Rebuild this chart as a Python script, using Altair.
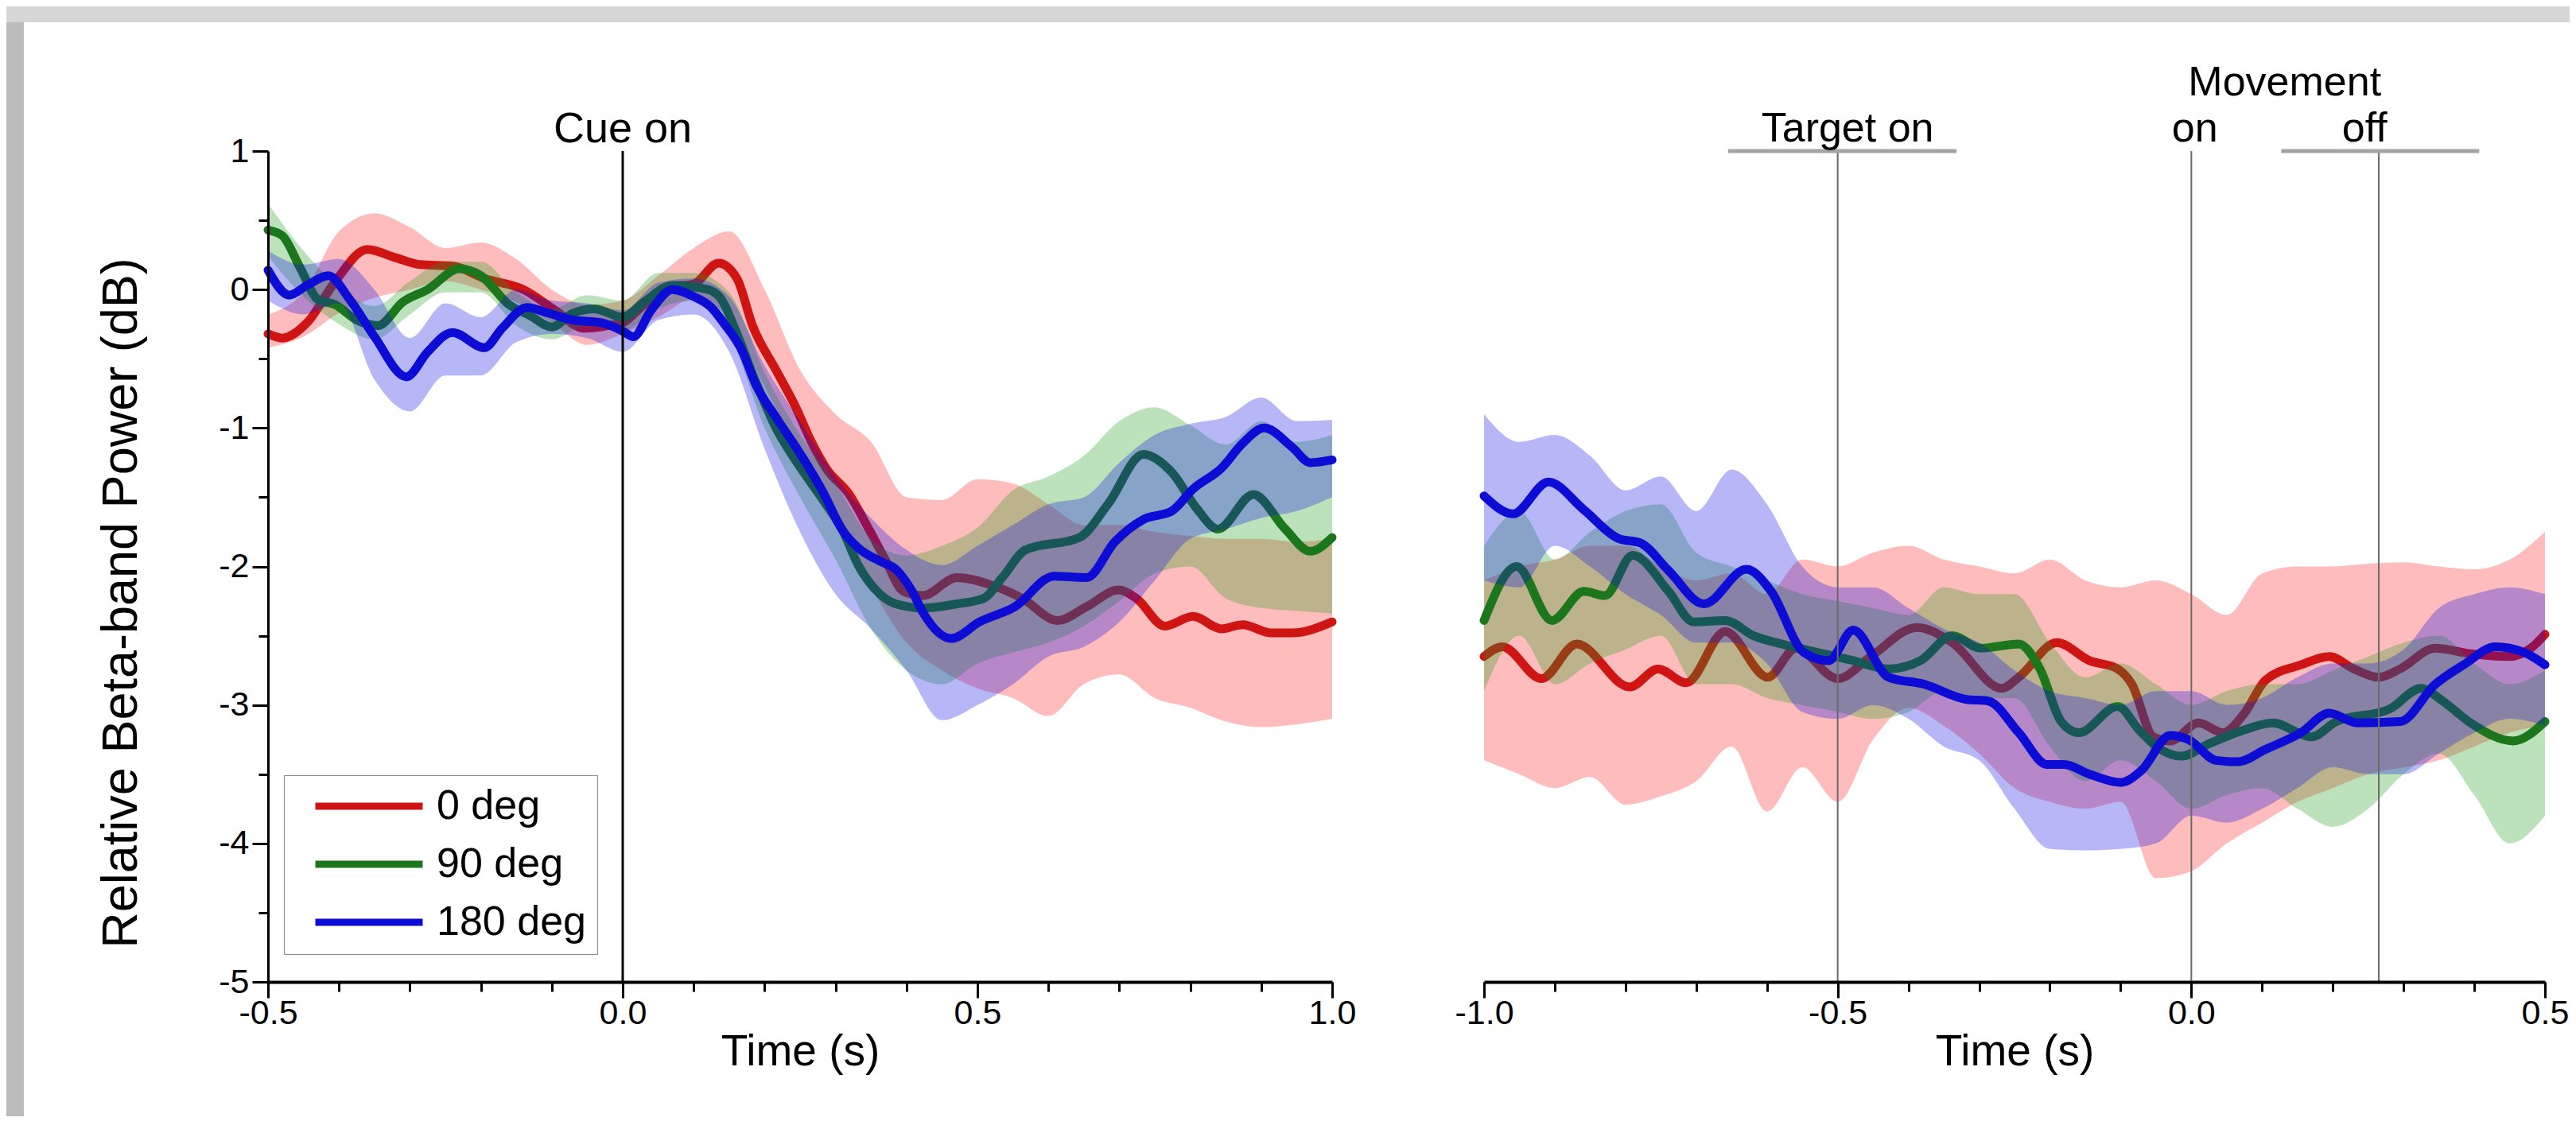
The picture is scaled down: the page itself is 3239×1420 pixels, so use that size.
import altair as alt
import pandas as pd

FONT = "Liberation Sans"
SERIES = ["0 deg", "90 deg", "180 deg"]
LINE_COLORS = ["#cf1414", "#1c761c", "#0c0cd4"]
BAND_COLORS = ["#ff2020", "#22a022", "#1010e6"]
BAND_OPACITY = 0.3

# ---------------- left panel (aligned to cue onset) ----------------
L_GRID = [-0.50, -0.45, -0.40, -0.35, -0.30, -0.25, -0.20, -0.15, -0.10, -0.05, 0.00,
          0.05, 0.10, 0.15, 0.20, 0.25, 0.30, 0.35, 0.40, 0.45, 0.50, 0.55, 0.60, 0.65,
          0.70, 0.75, 0.80, 0.85, 0.90, 0.95, 1.00]

L_RED_HI = [-0.18, -0.02, 0.42, 0.55, 0.45, 0.30, 0.34, 0.22, 0.00, -0.11, -0.08, 0.10, 0.30, 0.42,
            0.00, -0.58, -0.90, -1.10, -1.50, -1.52, -1.37, -1.40, -1.55, -1.70, -1.70, -1.75,
            -1.78, -1.80, -1.80, -1.82, -1.80]
L_RED_LO = [-0.42, -0.34, -0.17, -0.06, 0.00, 0.06, 0.00, -0.09, -0.24, -0.40, -0.32, -0.20, -0.07,
            -0.20, -0.70, -1.20, -1.70, -2.15, -2.55, -2.75, -2.88, -2.95, -3.08, -2.85, -2.78,
            -2.95, -3.02, -3.12, -3.16, -3.14, -3.10]
L_GRN_HI = [0.62, 0.28, 0.02, -0.12, 0.06, 0.20, 0.20, -0.02, -0.14, -0.04, -0.08, 0.12, 0.12, -0.02,
            -0.60, -1.05, -1.40, -1.80, -1.92, -1.85, -1.72, -1.45, -1.35, -1.20, -0.95, -0.85,
            -0.98, -1.12, -0.95, -1.10, -1.05]
L_GRN_LO = [0.24, -0.05, -0.25, -0.36, -0.18, -0.02, -0.02, -0.26, -0.36, -0.26, -0.30, -0.14, -0.08,
            -0.32, -1.00, -1.50, -1.95, -2.45, -2.75, -2.85, -2.70, -2.62, -2.55, -2.43, -2.25,
            -2.05, -2.00, -2.23, -2.30, -2.32, -2.34]
L_BLU_HI = [0.28, 0.18, 0.22, 0.00, -0.35, -0.10, -0.20, 0.00, -0.08, -0.10, -0.15, 0.05, 0.08, -0.05,
            -0.55, -0.95, -1.35, -1.65, -1.88, -1.99, -1.85, -1.70, -1.55, -1.50, -1.25, -1.05,
            -0.97, -0.92, -0.78, -0.95, -0.94]
L_BLU_LO = [-0.08, -0.18, -0.10, -0.65, -0.88, -0.62, -0.62, -0.38, -0.32, -0.35, -0.45, -0.22, -0.18,
            -0.45, -1.15, -1.75, -2.20, -2.45, -2.75, -3.11, -3.00, -2.85, -2.65, -2.58, -2.40,
            -2.10, -1.80, -1.73, -1.65, -1.60, -1.50]

L_RED_T = [-0.5, -0.48, -0.445, -0.405, -0.36, -0.32, -0.285, -0.24, -0.195, -0.14, -0.095, -0.055,
           -0.02, 0.0, 0.03, 0.07, 0.10, 0.135, 0.161, 0.183, 0.217, 0.243, 0.266, 0.288, 0.318,
           0.348, 0.37, 0.396, 0.423, 0.471, 0.523, 0.563, 0.613, 0.654, 0.699, 0.724, 0.764,
           0.804, 0.844, 0.874, 0.914, 0.944, 1.0]
L_RED_V = [-0.32, -0.35, -0.24, 0.06, 0.29, 0.23, 0.18, 0.17, 0.08, 0.0, -0.15, -0.28, -0.26, -0.24,
           -0.11, 0.02, 0.04, 0.19, 0.08, -0.26, -0.59, -0.84, -1.10, -1.30, -1.47, -1.74, -1.95,
           -2.18, -2.21, -2.08, -2.14, -2.23, -2.39, -2.29, -2.17, -2.23, -2.43, -2.36, -2.45,
           -2.42, -2.48, -2.48, -2.40]
L_GRN_T = [-0.5, -0.48, -0.455, -0.43, -0.405, -0.375, -0.345, -0.31, -0.275, -0.23, -0.2, -0.16,
           -0.13, -0.10, -0.07, -0.04, 0.0, 0.03, 0.07, 0.12, 0.139, 0.161, 0.187, 0.217, 0.247,
           0.281, 0.31, 0.333, 0.355, 0.385, 0.423, 0.471, 0.509, 0.535, 0.568, 0.644, 0.684,
           0.734, 0.774, 0.809, 0.839, 0.889, 0.934, 0.969, 1.0]
L_GRN_V = [0.43, 0.39, 0.16, -0.07, -0.11, -0.22, -0.26, -0.09, 0.0, 0.15, 0.10, -0.11, -0.19,
           -0.27, -0.17, -0.14, -0.20, -0.09, 0.03, 0.0, -0.07, -0.32, -0.66, -1.01, -1.26, -1.51,
           -1.74, -2.0, -2.16, -2.27, -2.30, -2.27, -2.23, -2.08, -1.88, -1.79, -1.55, -1.19,
           -1.32, -1.58, -1.73, -1.48, -1.73, -1.89, -1.79]
L_BLU_T = [-0.5, -0.47, -0.445, -0.415, -0.385, -0.35, -0.305, -0.275, -0.24, -0.195, -0.17,
           -0.135, -0.105, -0.07, -0.03, 0.0, 0.015, 0.04, 0.07, 0.10, 0.125, 0.142, 0.169, 0.187,
           0.217, 0.247, 0.281, 0.31, 0.333, 0.366, 0.385, 0.408, 0.423, 0.463, 0.503, 0.553,
           0.608, 0.654, 0.694, 0.734, 0.774, 0.804, 0.844, 0.874, 0.904, 0.944, 0.969, 1.0]
L_BLU_V = [0.14, -0.04, 0.03, 0.10, -0.07, -0.34, -0.63, -0.45, -0.31, -0.42, -0.28, -0.13, -0.17,
           -0.22, -0.24, -0.30, -0.34, -0.15, 0.0, -0.05, -0.13, -0.24, -0.45, -0.68, -0.93, -1.16,
           -1.45, -1.74, -1.87, -1.97, -2.02, -2.18, -2.33, -2.52, -2.40, -2.29, -2.07, -2.08,
           -1.82, -1.66, -1.60, -1.44, -1.29, -1.11, -1.0, -1.14, -1.25, -1.23]

# ---------------- right panel (aligned to movement onset) ----------------
R_GRID = [-1.00, -0.95, -0.90, -0.85, -0.80, -0.75, -0.70, -0.65, -0.60, -0.55, -0.50, -0.45,
          -0.40, -0.35, -0.30, -0.25, -0.20, -0.15, -0.10, -0.05, 0.00, 0.05, 0.10, 0.15, 0.20,
          0.25, 0.30, 0.35, 0.40, 0.45, 0.50]

R_RED_HI = [-2.10, -2.00, -1.95, -1.85, -1.85, -2.00, -2.10, -2.05, -2.20, -1.95, -2.00, -1.90,
            -1.85, -1.95, -2.00, -2.05, -1.95, -2.10, -2.15, -2.10, -2.20, -2.35, -2.05, -2.00,
            -2.00, -1.98, -1.97, -2.00, -2.02, -1.95, -1.75]
R_RED_LO = [-3.40, -3.50, -3.60, -3.52, -3.72, -3.66, -3.55, -3.30, -3.77, -3.45, -3.70, -3.25,
            -3.02, -3.15, -3.35, -3.60, -3.70, -3.75, -3.70, -4.25, -4.20, -4.00, -3.85, -3.70,
            -3.60, -3.50, -3.45, -3.40, -3.30, -3.20, -3.15]
R_GRN_HI = [-1.85, -1.60, -1.95, -1.75, -1.60, -1.55, -1.90, -2.00, -2.10, -2.20, -2.25, -2.30,
            -2.35, -2.15, -2.20, -2.20, -2.55, -2.80, -2.70, -2.85, -3.00, -2.90, -2.85, -2.85,
            -2.75, -2.65, -2.55, -2.50, -2.70, -2.85, -2.75]
R_GRN_LO = [-2.90, -2.50, -2.85, -2.70, -2.60, -2.50, -2.85, -2.85, -2.95, -3.00, -3.05, -3.10,
            -3.05, -2.90, -2.95, -2.95, -3.30, -3.55, -3.40, -3.55, -3.75, -3.65, -3.60, -3.75,
            -3.88, -3.75, -3.50, -3.35, -3.65, -4.00, -3.80]
R_BLU_HI = [-0.90, -1.10, -1.05, -1.20, -1.45, -1.35, -1.60, -1.30, -1.55, -2.00, -2.15, -2.15,
            -2.30, -2.45, -2.55, -2.75, -2.90, -2.95, -3.00, -2.90, -2.90, -3.00, -2.95, -2.80,
            -2.70, -2.70, -2.60, -2.30, -2.20, -2.15, -2.20]
R_BLU_LO = [-2.10, -2.15, -1.85, -2.00, -2.20, -2.35, -2.55, -2.55, -2.70, -3.05, -3.10, -3.00,
            -3.10, -3.30, -3.40, -3.75, -4.04, -4.05, -4.04, -4.00, -3.80, -3.85, -3.75, -3.60,
            -3.45, -3.50, -3.50, -3.35, -3.20, -3.10, -3.15]

R_RED_T = [-1.0, -0.974, -0.919, -0.869, -0.794, -0.754, -0.714, -0.659, -0.599, -0.559, -0.5,
           -0.453, -0.388, -0.338, -0.268, -0.244, -0.19, -0.144, -0.104, -0.084, -0.054, -0.03,
           0.01, 0.045, 0.075, 0.105, 0.155, 0.195, 0.23, 0.265, 0.295, 0.345, 0.395, 0.45, 0.48,
           0.5]
R_RED_V = [-2.65, -2.58, -2.81, -2.56, -2.87, -2.74, -2.84, -2.47, -2.80, -2.59, -2.81, -2.65,
           -2.44, -2.55, -2.88, -2.80, -2.55, -2.68, -2.74, -2.85, -3.23, -3.26, -3.13, -3.20,
           -3.06, -2.82, -2.71, -2.65, -2.74, -2.80, -2.74, -2.59, -2.63, -2.65, -2.59, -2.49]
R_GRN_T = [-1.0, -0.954, -0.904, -0.859, -0.829, -0.79, -0.739, -0.704, -0.659, -0.619, -0.579,
           -0.529, -0.478, -0.428, -0.383, -0.338, -0.298, -0.244, -0.214, -0.184, -0.159, -0.104,
           -0.074, -0.044, -0.014, 0.025, 0.075, 0.115, 0.17, 0.205, 0.28, 0.325, 0.355, 0.395,
           0.455, 0.5]
R_GRN_V = [-2.39, -2.0, -2.39, -2.18, -2.21, -1.92, -2.18, -2.40, -2.39, -2.50, -2.56, -2.62,
           -2.68, -2.74, -2.68, -2.50, -2.59, -2.56, -2.74, -3.12, -3.20, -3.01, -3.18, -3.32,
           -3.37, -3.28, -3.18, -3.13, -3.23, -3.12, -3.03, -2.88, -2.97, -3.13, -3.26, -3.12]
R_BLU_T = [-1.0, -0.959, -0.909, -0.859, -0.809, -0.779, -0.739, -0.689, -0.629, -0.594, -0.548,
           -0.513, -0.478, -0.428, -0.378, -0.318, -0.288, -0.244, -0.204, -0.18, -0.144, -0.10,
           -0.07, -0.03, -0.004, 0.035, 0.065, 0.105, 0.155, 0.195, 0.235, 0.295, 0.345, 0.385,
           0.43, 0.47, 0.5]
R_BLU_V = [-1.49, -1.62, -1.39, -1.59, -1.80, -1.83, -2.03, -2.27, -2.02, -2.18, -2.62, -2.68,
           -2.46, -2.80, -2.85, -2.96, -2.97, -3.20, -3.43, -3.43, -3.50, -3.56, -3.47, -3.22,
           -3.25, -3.40, -3.41, -3.32, -3.20, -3.06, -3.13, -3.12, -2.85, -2.71, -2.58, -2.62,
           -2.71]

# ---------------- axes ticks / annotations ----------------
L_MAJOR_X = [-0.5, 0.0, 0.5, 1.0]
L_MINOR_X = [-0.5, -0.4, -0.3, -0.2, -0.1, 0.0, 0.1, 0.2, 0.3, 0.4, 0.5, 0.6, 0.7, 0.8, 0.9, 1.0]
R_MAJOR_X = [-1.0, -0.5, 0.0, 0.5]
R_MINOR_X = [-1.0, -0.9, -0.8, -0.7, -0.6, -0.5, -0.4, -0.3, -0.2, -0.1, 0.0, 0.1, 0.2, 0.3, 0.4, 0.5]
MAJOR_Y = [-5, -4, -3, -2, -1, 0, 1]
MINOR_Y = [-4.5, -3.5, -2.5, -1.5, -0.5, 0.5]

CUE_T = [0.0]
CUE_LABEL = ["Cue on"]
EVENT_T = [-0.5, 0.0, 0.265]
EVENT_LABEL_T = [-0.486, 0.005, 0.245]
EVENT_LABEL = ["Target on", "on", "off"]
BRACKET_T1 = [-0.655, 0.127]
BRACKET_T2 = [-0.332, 0.407]
MOVEMENT_T = [0.132]
MOVEMENT_LABEL = ["Movement"]

W_L, W_R, H = 1338, 1334, 1045
XFIX = "replace(format(datum.value, '.1f'), '\u2212', '-')"
YFIX = "replace(format(datum.value, 'd'), '\u2212', '-')"

ys = alt.Scale(domain=[-5, 1], nice=False, zero=False)


def major_x(values):
    return alt.Axis(orient="bottom", values=values, labelExpr=XFIX, tickSize=20, tickWidth=3,
                    tickColor="black", domainColor="black", domainWidth=4, labelFontSize=43,
                    labelFont=FONT, labelColor="black", labelPadding=-2, labelOverlap=False,
                    labelFlush=False, title="Time (s)", titleFont=FONT, titleFontSize=55,
                    titleFontWeight="normal", titleColor="black", titlePadding=0, grid=False,
                    zindex=2)


def minor_x(values):
    return alt.Axis(orient="bottom", values=values, tickSize=12, tickWidth=3, tickColor="black",
                    domain=False, labels=False, title=None, grid=False, zindex=2)


MAJOR_Y_AXIS = alt.Axis(orient="left", values=MAJOR_Y, labelExpr=YFIX, tickSize=20, tickWidth=3,
                        tickColor="black", domainColor="black", domainWidth=3, labelFontSize=43,
                        labelFont=FONT, labelColor="black", labelPadding=4, labelOverlap=False,
                        title="Relative Beta-band Power (dB)", titleFont=FONT, titleFontSize=63,
                        titleFontWeight="normal", titleColor="black", titlePadding=90, titleY=568,
                        grid=False, zindex=2)
MINOR_Y_AXIS = alt.Axis(orient="left", values=MINOR_Y, tickSize=12, tickWidth=3, tickColor="black",
                        domain=False, labels=False, title=None, grid=False, zindex=2)

LEGEND = alt.Legend(orient="none", legendX=20, legendY=785, title=None, symbolType="stroke",
                    symbolSize=18225, symbolStrokeWidth=9, clipHeight=50, rowPadding=21,
                    padding=14, symbolOffset=21, labelOffset=13, labelFontSize=52, labelFont=FONT,
                    labelColor="black", labelLimit=400, strokeColor="#8c8c8c", fillColor="white",
                    zindex=3)


def series_layers(grid, bands, means, xs, ax_major, ax_minor, ay_major, ay_minor, legend):
    layers = []
    for i, s in enumerate(SERIES):
        lo, hi = bands[i]
        bdf = pd.DataFrame({"t": grid, "lo": lo, "hi": hi})
        if i == 0:
            xa, ya = ax_major, ay_major
        elif i == 1:
            xa, ya = ax_minor, ay_minor
        else:
            xa, ya = None, None
        area = alt.Chart(bdf).mark_area(color=BAND_COLORS[i], opacity=BAND_OPACITY,
                                        interpolate="monotone").encode(
            x=alt.X("t:Q", scale=xs, axis=xa),
            y=alt.Y("hi:Q", scale=ys, axis=ya),
            y2="lo:Q",
        )
        mt, mv = means[i]
        mdf = pd.DataFrame({"t": mt, "v": mv, "series": s})
        line = alt.Chart(mdf).mark_line(strokeWidth=11, strokeCap="round", strokeJoin="round",
                                        interpolate="monotone").encode(
            x=alt.X("t:Q", scale=xs, axis=None),
            y=alt.Y("v:Q", scale=ys, axis=None),
            color=alt.Color("series:N", scale=alt.Scale(domain=SERIES, range=LINE_COLORS),
                            legend=legend),
        )
        layers += [area, line]
    return layers


# ---------------- left panel ----------------
xs_l = alt.Scale(domain=[-0.5, 1.0], nice=False, zero=False)
frame_df = pd.DataFrame({"k": [0]})
white_frame = alt.Chart(frame_df).mark_rect(color="white").encode(
    x=alt.value(-307), x2=alt.value(2894), y=alt.value(-162), y2=alt.value(1214))
side_band = alt.Chart(frame_df).mark_rect(color="#bcbcbc").encode(
    x=alt.value(-329), x2=alt.value(-307), y=alt.value(-162), y2=alt.value(1214))

left_series = series_layers(
    L_GRID,
    [(L_RED_LO, L_RED_HI), (L_GRN_LO, L_GRN_HI), (L_BLU_LO, L_BLU_HI)],
    [(L_RED_T, L_RED_V), (L_GRN_T, L_GRN_V), (L_BLU_T, L_BLU_V)],
    xs_l, major_x(L_MAJOR_X), minor_x(L_MINOR_X), MAJOR_Y_AXIS, MINOR_Y_AXIS, LEGEND)

cue_df = pd.DataFrame({"t": CUE_T, "top": [1.0], "bot": [-5.0], "label": CUE_LABEL})
cue_rule = alt.Chart(cue_df).mark_rule(color="black", strokeWidth=3).encode(
    x=alt.X("t:Q", scale=xs_l, axis=None), y=alt.Y("top:Q", scale=ys, axis=None), y2="bot:Q")
cue_text = alt.Chart(cue_df).mark_text(font=FONT, fontSize=54, color="black", align="center",
                                       baseline="alphabetic", dy=-11).encode(
    x=alt.X("t:Q", scale=xs_l, axis=None), y=alt.Y("top:Q", scale=ys, axis=None), text="label:N")

left = alt.layer(white_frame, side_band, *left_series, cue_rule, cue_text).properties(
    width=W_L, height=H).resolve_axis(x="independent", y="independent")

# ---------------- right panel ----------------
xs_r = alt.Scale(domain=[-1.0, 0.5], nice=False, zero=False)
right_series = series_layers(
    R_GRID,
    [(R_RED_LO, R_RED_HI), (R_GRN_LO, R_GRN_HI), (R_BLU_LO, R_BLU_HI)],
    [(R_RED_T, R_RED_V), (R_GRN_T, R_GRN_V), (R_BLU_T, R_BLU_V)],
    xs_r, major_x(R_MAJOR_X), minor_x(R_MINOR_X), None, None, None)

ev_df = pd.DataFrame({"t": EVENT_T, "top": [1.0] * len(EVENT_T), "bot": [-5.0] * len(EVENT_T)})
ev_rules = alt.Chart(ev_df).mark_rule(color="#6a6a6a", strokeWidth=2).encode(
    x=alt.X("t:Q", scale=xs_r, axis=None), y=alt.Y("top:Q", scale=ys, axis=None), y2="bot:Q")
br_df = pd.DataFrame({"t1": BRACKET_T1, "t2": BRACKET_T2, "v": [1.0] * len(BRACKET_T1)})
br_rules = alt.Chart(br_df).mark_rule(color="#a4a4a4", strokeWidth=5).encode(
    x=alt.X("t1:Q", scale=xs_r, axis=None), x2="t2:Q", y=alt.Y("v:Q", scale=ys, axis=None))
evl_df = pd.DataFrame({"t": EVENT_LABEL_T, "v": [1.0] * len(EVENT_LABEL_T), "label": EVENT_LABEL})
ev_text = alt.Chart(evl_df).mark_text(font=FONT, fontSize=52, color="black", align="center",
                                      baseline="alphabetic", dy=-12).encode(
    x=alt.X("t:Q", scale=xs_r, axis=None), y=alt.Y("v:Q", scale=ys, axis=None), text="label:N")
mv_df = pd.DataFrame({"t": MOVEMENT_T, "v": [1.0], "label": MOVEMENT_LABEL})
mv_text = alt.Chart(mv_df).mark_text(font=FONT, fontSize=52, color="black", align="center",
                                     baseline="alphabetic", dy=-70).encode(
    x=alt.X("t:Q", scale=xs_r, axis=None), y=alt.Y("v:Q", scale=ys, axis=None), text="label:N")

right = alt.layer(*right_series, ev_rules, br_rules, ev_text, mv_text).properties(
    width=W_R, height=H).resolve_axis(x="independent", y="independent")

chart = alt.hconcat(left, right, spacing=191, bounds="flush").resolve_scale(
    color="independent").properties(
    padding={"left": 0, "top": 20, "right": 0, "bottom": 0}, background="#d6d6d6"
).configure_view(stroke=None)

chart.save("out.html", embed_options={"renderer": "svg", "actions": False})
